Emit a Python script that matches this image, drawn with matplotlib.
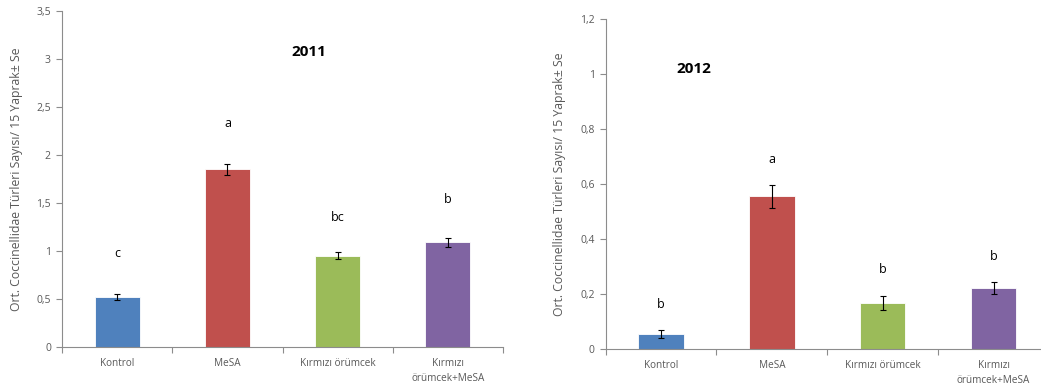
import numpy as np
import matplotlib
matplotlib.use("Agg")
import matplotlib.pyplot as plt
from matplotlib.ticker import FuncFormatter, MultipleLocator

# --- data ---
categories = ["Kontrol", "MeSA", "Kırmızı örümcek", "Kırmızı\nörümcek+MeSA"]
colors = ["#4F81BD", "#C0504D", "#9BBB59", "#8064A2"]

mean_2011 = [0.52, 1.85, 0.95, 1.09]
se_2011 = [0.035, 0.055, 0.035, 0.05]
letters_2011 = ["c", "a", "bc", "b"]
letter_y_2011 = [0.97, 2.33, 1.35, 1.54]

mean_2012 = [0.055, 0.555, 0.166, 0.222]
se_2012 = [0.014, 0.043, 0.025, 0.023]
letters_2012 = ["b", "a", "b", "b"]
letter_y_2012 = [0.16, 0.69, 0.29, 0.335]

YLABEL = "Ort. Coccinellidae Türleri Sayısı/ 15 Yaprak± Se"
GRAY = "#595959"
AXIS_GRAY = "#8c8c8c"
plt.rcParams['font.family'] = ['Open Sans', 'DejaVu Sans']


def comma_fmt(v, pos):
    s = f"{v:.1f}".rstrip("0").rstrip(".")
    return s.replace(".", ",")


def draw_panel(ax, means, errs, letters, letter_y, ymax, step, title, title_xy):
    x = np.arange(len(categories))
    ax.bar(x, means, width=0.41, color=colors, edgecolor="white", linewidth=0.6, zorder=2)
    ax.errorbar(x, means, yerr=errs, fmt="none", ecolor="black", elinewidth=0.8,
                capsize=2, capthick=0.8, zorder=3)
    for xi, lt, ly in zip(x, letters, letter_y):
        ax.text(xi, ly, lt, ha="center", va="center", fontsize=9, color="black")
    ax.text(title_xy[0], title_xy[1], title, ha="center", va="center",
            fontsize=11, fontweight="bold", color="black")

    ax.set_xlim(-0.5, 3.5)
    ax.set_ylim(0, ymax)
    ax.yaxis.set_major_locator(MultipleLocator(step))
    ax.yaxis.set_major_formatter(FuncFormatter(comma_fmt))

    # category boundaries carry the x ticks
    ax.set_xticks(np.arange(-0.5, 3.6, 1.0))
    ax.set_xticklabels([])
    ax.set_xticks(x, minor=True)
    ax.set_xticklabels(categories, minor=True, fontsize=7.2, color=GRAY, linespacing=1.5)
    ax.tick_params(axis="x", which="minor", length=0, pad=8)
    ax.tick_params(axis="x", which="major", length=4, color=AXIS_GRAY, direction="out")
    ax.tick_params(axis="y", length=4, color=AXIS_GRAY, labelsize=7.5, labelcolor=GRAY, pad=4)
    for side in ["top", "right"]:
        ax.spines[side].set_visible(False)
    for side in ["left", "bottom"]:
        ax.spines[side].set_color(AXIS_GRAY)
        ax.spines[side].set_linewidth(0.8)
    ax.set_ylabel(YLABEL, fontsize=8.8, color=GRAY)


fig = plt.figure(figsize=(10.41, 3.92), dpi=100)

ax1 = fig.add_axes([0.0596, 0.1148, 0.4236, 0.8572])
draw_panel(ax1, mean_2011, se_2011, letters_2011, letter_y_2011, 3.5, 0.5, "2011", (1.74, 3.07))
ax1.yaxis.set_label_coords(-0.088, 0.5)

ax2 = fig.add_axes([0.5818, 0.1097, 0.4259, 0.8418])
draw_panel(ax2, mean_2012, se_2012, letters_2012, letter_y_2012, 1.2, 0.2, "2012", (0.295, 1.02))
ax2.yaxis.set_label_coords(-0.09, 0.5)

fig.savefig("out.png", dpi=100)
